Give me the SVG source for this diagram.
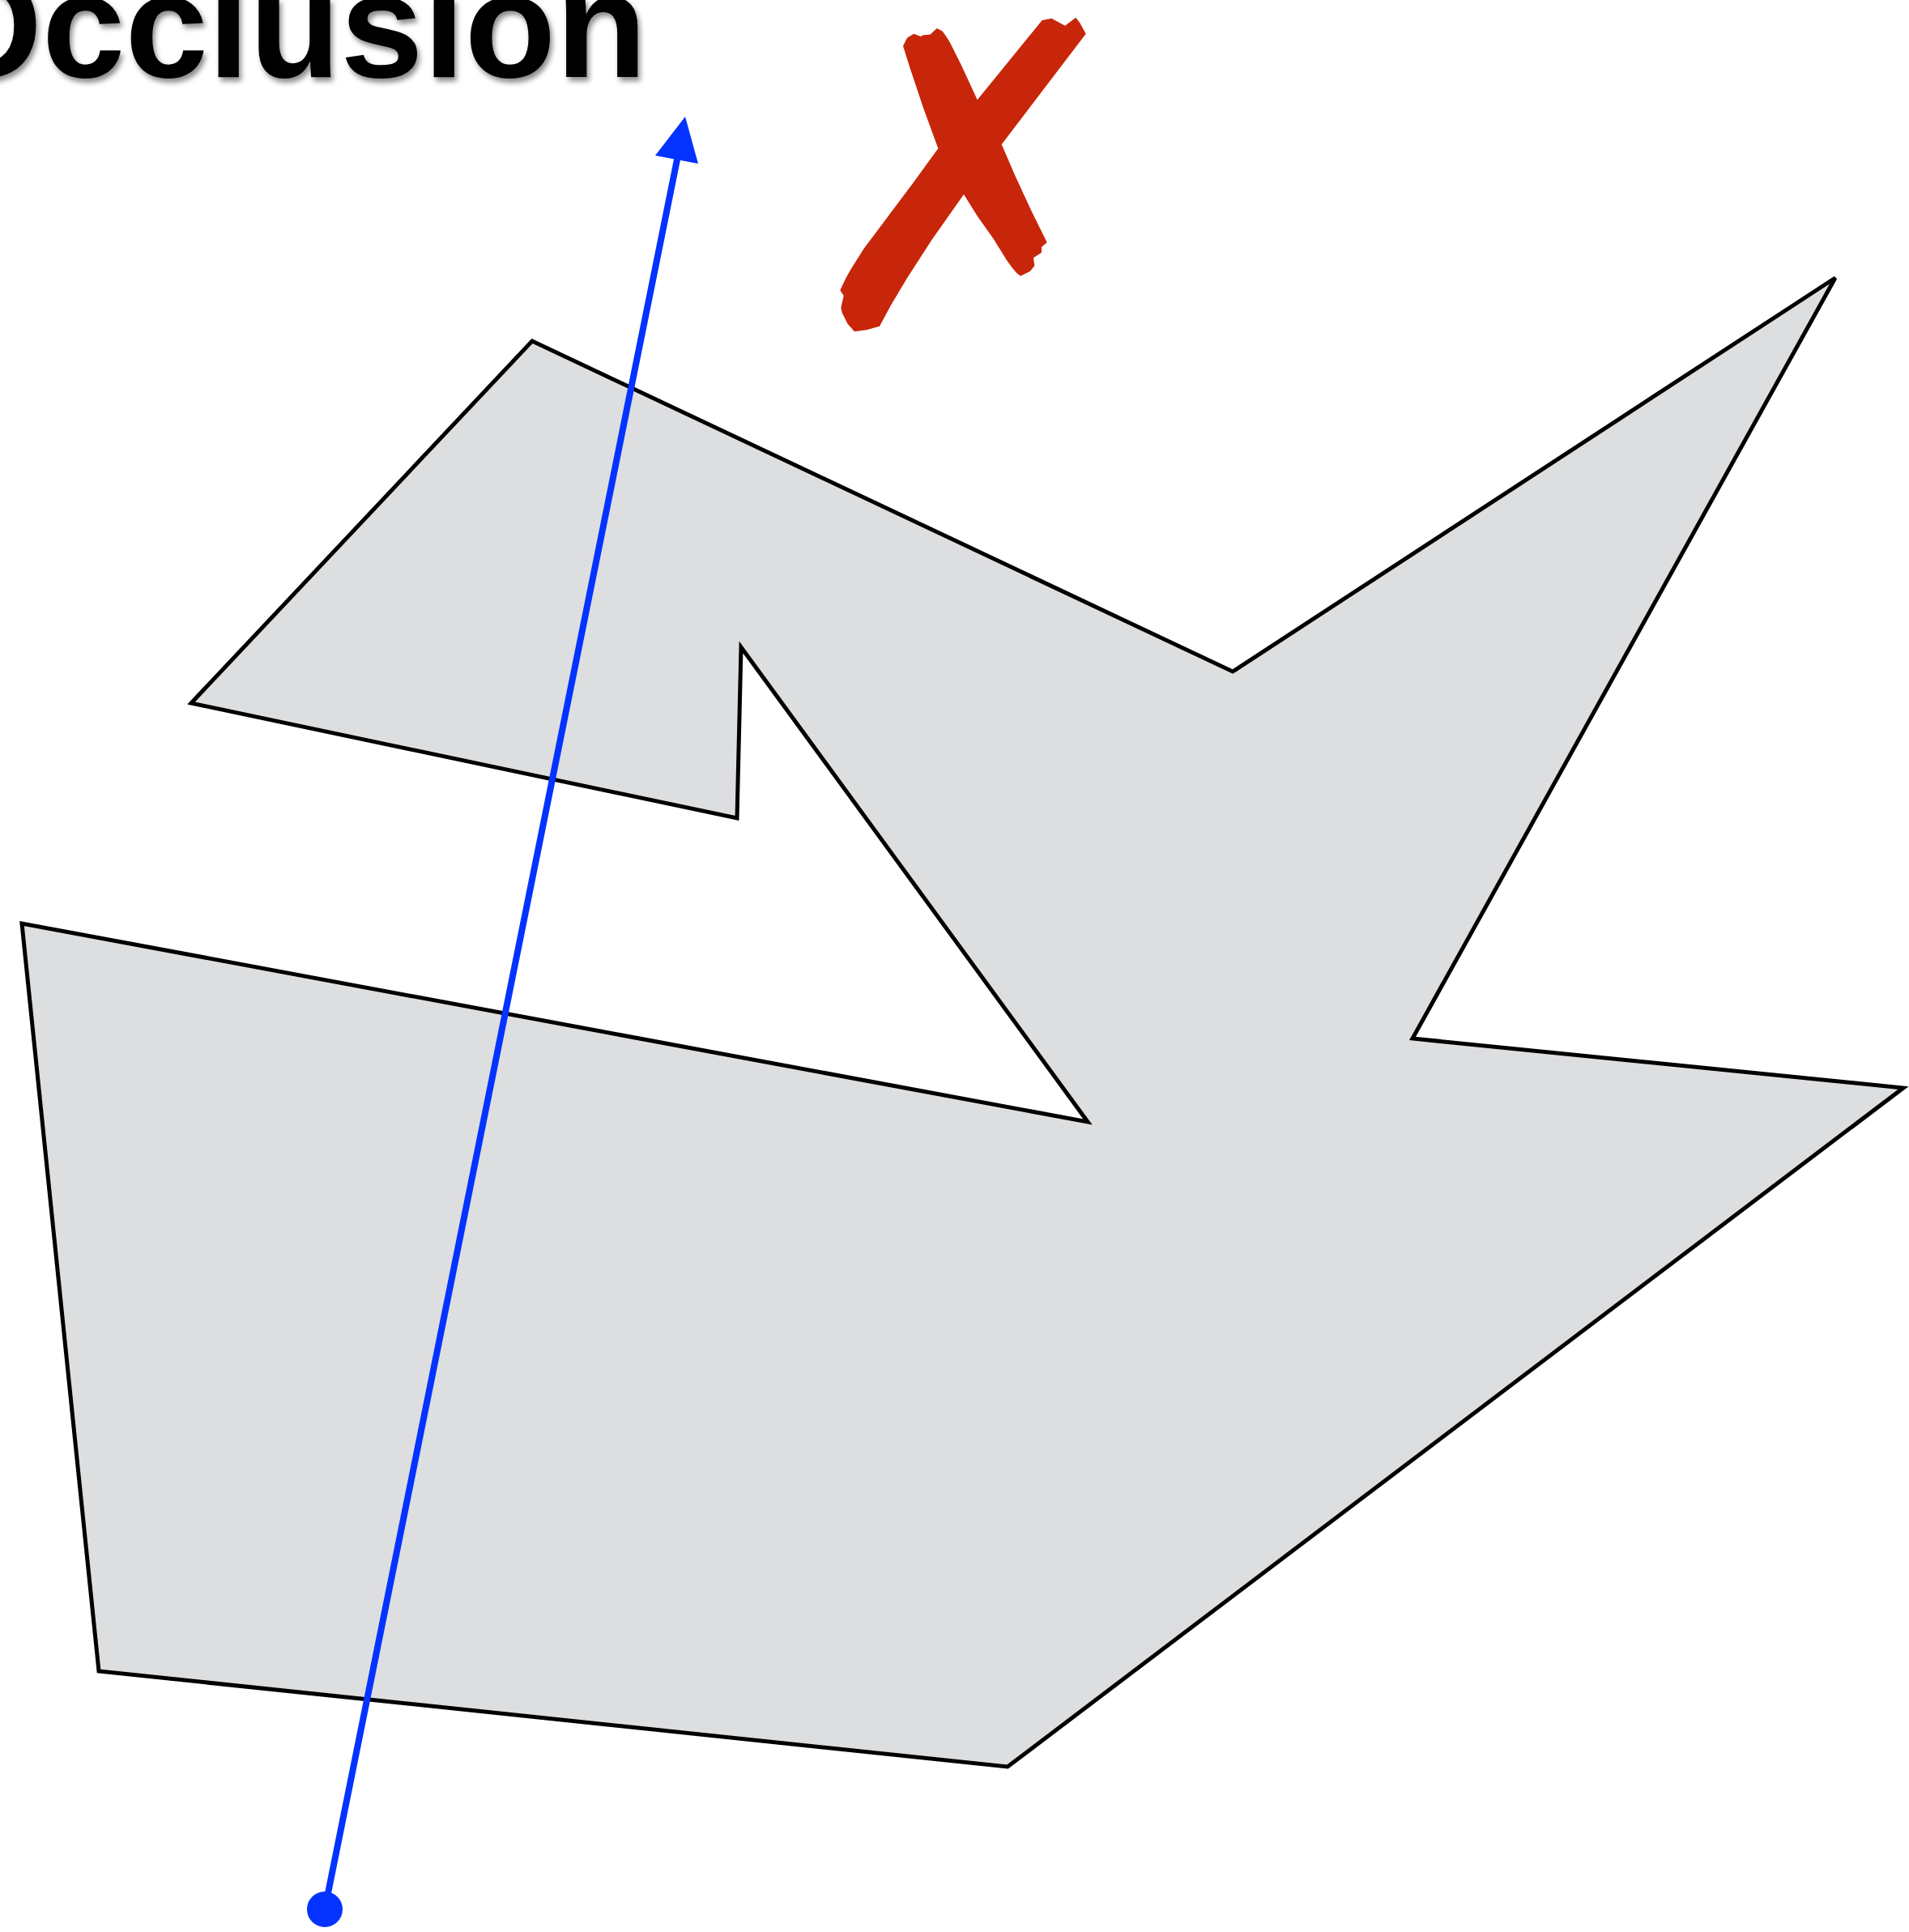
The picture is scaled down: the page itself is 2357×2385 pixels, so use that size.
<svg xmlns="http://www.w3.org/2000/svg" width="2357" height="2385" viewBox="0 0 2357 2385">
  <defs>
    <style>
      .title { font-family: "Liberation Sans", Arial, sans-serif; font-weight: bold; font-size: 184px; fill: #000; }
      .shape { fill: #DDDEE0; stroke: #000; stroke-width: 5; stroke-linejoin: miter; }
      .ray { stroke: #0433FF; stroke-width: 8; fill: none; }
      .blue { fill: #0433FF; }
      .cross { fill: #C8260A; }
    </style>
    <filter id="shadow" x="-10%" y="-20%" width="130%" height="160%">
      <feDropShadow dx="3" dy="5" stdDeviation="3" flood-color="#000" flood-opacity="0.45"/>
    </filter>
  </defs>
  <rect width="2357" height="2385" fill="#fff"/>

  <g id="title">
    <text class="title" x="-91" y="95" filter="url(#shadow)">Occlusion</text>
  </g>

  <g id="polygon">
    <polygon class="shape" points="657,421 1522,829 2266,343 1744,1282 2350,1343 1244,2181 122,2063 27,1140 1343,1385 915,799 910,1010 236,868"/>
  </g>

  <g id="cross">
    <path class="cross" d="M1115,56.7 L1120,46.7 L1128.3,41.7 L1136.7,45 L1140,43.3 L1148.3,42.7 L1156.7,35 L1163.3,38.3 Q1168,44 1173.3,53.3 L1186.7,80 L1206.7,123.3 L1286.7,25 L1298.3,22.7 L1315,31.7 L1328.3,21.7 L1333.3,28.3 L1340.7,41.7 L1236.7,178.3 L1253.3,216.7 L1273.3,260 L1292.7,299.3 L1286,305 L1286,311.7 L1276,318.3 L1277.3,328.3 L1271.7,335 L1260,340.7 L1255,336.7 Q1249,330 1243.3,321.7 L1226.7,295 L1206.7,266.7 L1190,240 L1150,296.7 L1120,343.3 L1100,376.7 L1086,402.7 L1070,407.3 L1055,409.3 L1046.7,400 L1040,386.7 L1038.3,380 L1041.7,365 L1037.3,358.3 Q1043,345 1050,333.3 L1066.7,306.7 L1096.7,266.7 L1126.7,226.7 L1158.3,183.3 L1140,133.3 L1123.3,83.3 Z"/>
  </g>

  <g id="connectors">
    <line class="ray" x1="401" y1="2357" x2="837" y2="192"/>
    <polygon class="blue" points="846,144 809,192 862,202"/>
    <circle class="blue" cx="401" cy="2357" r="22"/>
  </g>
</svg>
